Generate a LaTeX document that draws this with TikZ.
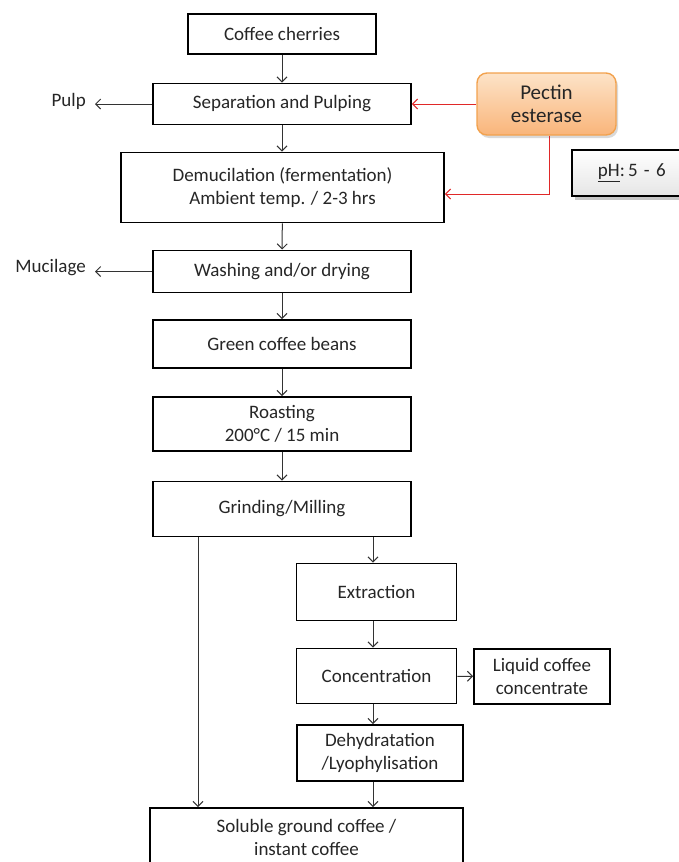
\documentclass[tikz,border=0pt]{standalone}
\usepackage{fontspec}
\setmainfont{Carlito}
\usetikzlibrary{arrows.meta,shadows}
\definecolor{txt}{HTML}{262626}
\definecolor{flow}{HTML}{333333}
\definecolor{enzred}{HTML}{E02828}
\definecolor{enzborder}{HTML}{F2A24E}
\definecolor{enztop}{HTML}{FDE3C8}
\definecolor{enzbot}{HTML}{F9B57A}
\tikzset{
  stepbox/.style={draw=black, line width=1.9pt, fill=white, inner sep=0pt,
    align=center, text=txt, font=\fontsize{19}{23}\selectfont},
  flowarrow/.style={draw=flow, line width=1pt,
    -{Straight Barb[length=5pt,width=10pt,line width=1pt]}},
  enzarrow/.style={draw=enzred, line width=1pt,
    -{Straight Barb[length=5pt,width=10pt,line width=1pt]}},
  sidelabel/.style={text=txt, font=\fontsize{19}{23}\selectfont, anchor=east, inner sep=0pt},
}
\begin{document}
\begin{tikzpicture}[x=1pt,y=-1pt]
\useasboundingbox (0,0) rectangle (678,862);

% main processing chain
\node[stepbox, minimum width=188pt, minimum height=40pt] (cherries) at (282,34) {Coffee cherries};
\node[stepbox, minimum width=258pt, minimum height=41pt] (sep) at (282,104) {Separation and Pulping};
\node[stepbox, minimum width=323pt, minimum height=70pt] (demu) at (282.5,187.5) {Demucilation (fermentation)\\Ambient temp. / 2-3 hrs};
\node[stepbox, minimum width=258pt, minimum height=42pt] (wash) at (282,271.5) {Washing and/or drying};
\node[stepbox, minimum width=258pt, minimum height=48pt] (green) at (282,344) {Green coffee beans};
\node[stepbox, minimum width=258pt, minimum height=54pt] (roast) at (282,424) {Roasting\\200°C / 15 min};
\node[stepbox, minimum width=258pt, minimum height=55pt] (grind) at (282,509) {Grinding/Milling};

% soluble coffee branch
\node[stepbox, minimum width=160pt, minimum height=57pt] (extr) at (376.5,592) {Extraction};
\node[stepbox, minimum width=160pt, minimum height=55pt] (conc) at (376.5,676) {Concentration};
\node[stepbox, minimum width=136pt, minimum height=55pt] (liquid) at (542,676.5) {Liquid coffee\\concentrate};
\node[stepbox, minimum width=166pt, minimum height=56pt] (dehy) at (380,753) {Dehydratation\\/Lyophylisation};
\node[stepbox, minimum width=313pt, minimum height=70pt] (sol) at (306.5,843) {};
\node[text=txt, font=\fontsize{19}{23}\selectfont, align=center, inner sep=0pt] (soltext) at (306.5,837)
  {Soluble ground coffee /\\instant coffee};

% by-products
\node[sidelabel] (pulp) at (86,101) {Pulp};
\node[sidelabel] (mucilage) at (86,268) {Mucilage};
\coordinate (pulpend) at (95,104);
\coordinate (mucend) at (95,271.5);

% enzyme and conditions
\node[draw=enzborder, line width=1.4pt, rounded corners=10pt,
      top color=enztop, bottom color=enzbot,
      drop shadow={opacity=0.3, shadow xshift=2pt, shadow yshift=-3pt},
      minimum width=139pt, minimum height=62pt, align=center, text=txt,
      font=\fontsize{21}{23}\selectfont] (pectin) at (546.5,104) {Pectin\\esterase};
\node[draw=black, line width=1.9pt, top color=white, bottom color=black!10,
      drop shadow={opacity=0.45, shadow xshift=3pt, shadow yshift=-4pt},
      minimum width=130pt, minimum height=46pt, anchor=west, text=txt,
      font=\fontsize{19}{23}\selectfont, inner sep=0pt, text width=110pt, align=left] (ph) at (571,173)
  {\hspace{16pt}\underline{pH}:\,5 - 6};

% flow connectors
\draw[flowarrow] (cherries) -- (sep);
\draw[flowarrow] (sep.south) -- (demu.north -| sep.south);
\draw[flowarrow] (demu) -- (wash);
\draw[flowarrow] (wash) -- (green);
\draw[flowarrow] (green) -- (roast);
\draw[flowarrow] (roast) -- (grind);
\draw[flowarrow] (grind.south -| 373,0) -- (extr.north -| 373,0);
\draw[flowarrow] (extr.south -| 373,0) -- (conc.north -| 373,0);
\draw[flowarrow] (conc) -- (liquid);
\draw[flowarrow] (conc.south -| 373,0) -- (dehy.north -| 373,0);
\draw[flowarrow] (dehy.south -| 373,0) -- (sol.north -| 373,0);
\draw[flowarrow] (grind.south -| 198,0) -- (sol.north -| 198,0);
\draw[flowarrow] (sep.west) -- (pulpend);
\draw[flowarrow] (wash.west) -- (mucend);

% enzyme connectors
\draw[enzarrow] (pectin.west) -- (sep.east);
\draw[enzarrow] (pectin.south -| 549,0) -- (549,194) -- (demu.east |- 0,194);
\end{tikzpicture}
\end{document}
